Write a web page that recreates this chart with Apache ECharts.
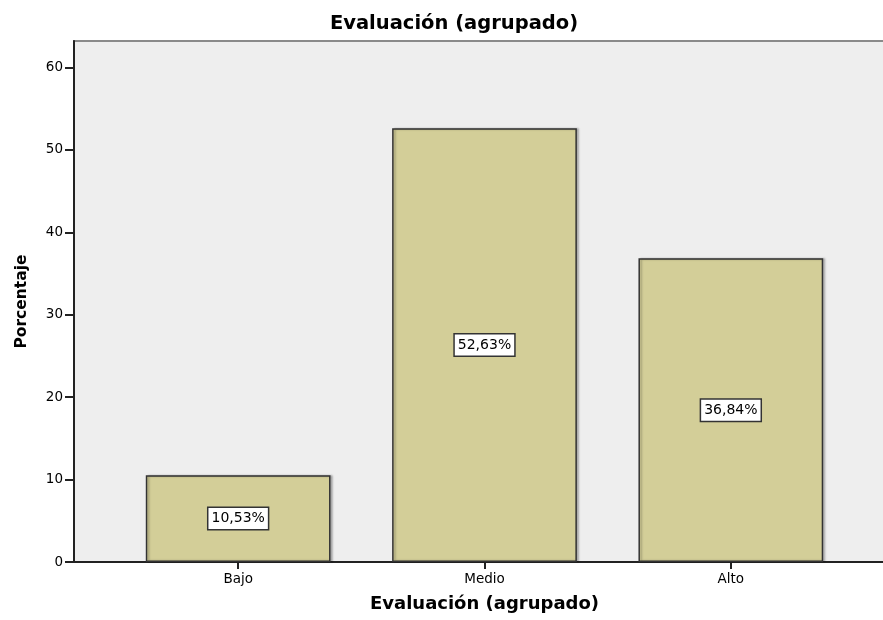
<!DOCTYPE html>
<html>
<head>
<meta charset="utf-8">
<script src="https://cdn.jsdelivr.net/npm/echarts@6/dist/echarts.min.js"></script>
<style>
html, body { margin: 0; padding: 0; background: #fff; }
#chart { width: 883px; height: 620px; }
</style>
</head>
<body>
<div id="chart"></div>
<script>
var categories = ["Bajo", "Medio", "Alto"];
var percentages = [10.53, 52.63, 36.84];
var yTicks = [0, 10, 20, 30, 40, 50, 60];

var chart = echarts.init(document.getElementById("chart"));
var font = "DejaVu Sans, Verdana, sans-serif";
var yMax = 63.2;

var option = {
    animation: false,
    title: {
        text: "Evaluación (agrupado)",
        left: 449,
        top: 9,
        textAlign: "center",
        textStyle: { fontFamily: font, fontSize: 19.5, fontWeight: "bold", color: "#000" }
    },
    grid: [
        // frame with grey background
        { left: 74, right: -6, top: 41, bottom: 58, show: true, backgroundColor: "#eeeeee", borderColor: "#8a8a8a", borderWidth: 2, outerBoundsMode: "none", containLabel: false },
        // inner grid holding the bars
        { left: 115, right: 29, top: 41, bottom: 58, outerBoundsMode: "none", containLabel: false }
    ],
    xAxis: [{
        gridIndex: 0,
        type: "value",
        min: 0, max: 1,
        axisLine: { show: true, lineStyle: { color: "#222", width: 2 } },
        axisTick: { show: false },
        axisLabel: { show: false },
        splitLine: { show: false }
    }, {
        gridIndex: 1,
        type: "category",
        data: categories,
        axisLine: { show: false },
        axisTick: { show: true, alignWithLabel: true, length: 7, lineStyle: { color: "#222", width: 2 } },
        axisLabel: { fontFamily: font, fontSize: 13.5, color: "#000", margin: 10 },
        name: "Evaluación (agrupado)",
        nameLocation: "middle",
        nameGap: 33,
        nameTextStyle: { fontFamily: font, fontSize: 18, fontWeight: "bold", color: "#000" }
    }],
    yAxis: [{
        gridIndex: 0,
        type: "value",
        min: 0, max: yMax, interval: 10,
        axisLine: { show: true, lineStyle: { color: "#222", width: 2 } },
        axisTick: { show: true, length: 9, lineStyle: { color: "#222", width: 2 } },
        axisLabel: {
            fontFamily: font, fontSize: 13.5, color: "#000", margin: 11, showMaxLabel: false,
            formatter: function (v) { return yTicks.indexOf(v) >= 0 ? String(v) : ""; }
        },
        splitLine: { show: false },
        name: "Porcentaje",
        nameLocation: "middle",
        nameGap: 44,
        nameTextStyle: { fontFamily: font, fontSize: 15.5, fontWeight: "bold", color: "#000" }
    }, {
        gridIndex: 1,
        type: "value",
        min: 0, max: yMax,
        show: false
    }],
    series: [{
        type: "bar",
        xAxisIndex: 1,
        yAxisIndex: 1,
        data: percentages,
        barCategoryGap: "25%",
        itemStyle: {
            color: "#d3ce98",
            borderColor: "#333",
            borderWidth: 1.5,
            shadowColor: "rgba(0,0,0,0.25)",
            shadowOffsetX: 2,
            shadowBlur: 2
        },
        label: {
            show: true,
            position: "inside",
            formatter: function (p) { return p.value.toFixed(2).replace(".", ",") + "%"; },
            fontFamily: font,
            fontSize: 14,
            color: "#000",
            backgroundColor: "#fff",
            borderColor: "#333",
            borderWidth: 1.5,
            padding: [4, 3, 3, 3]
        }
    }]
};
chart.setOption(option);
</script>
</body>
</html>
